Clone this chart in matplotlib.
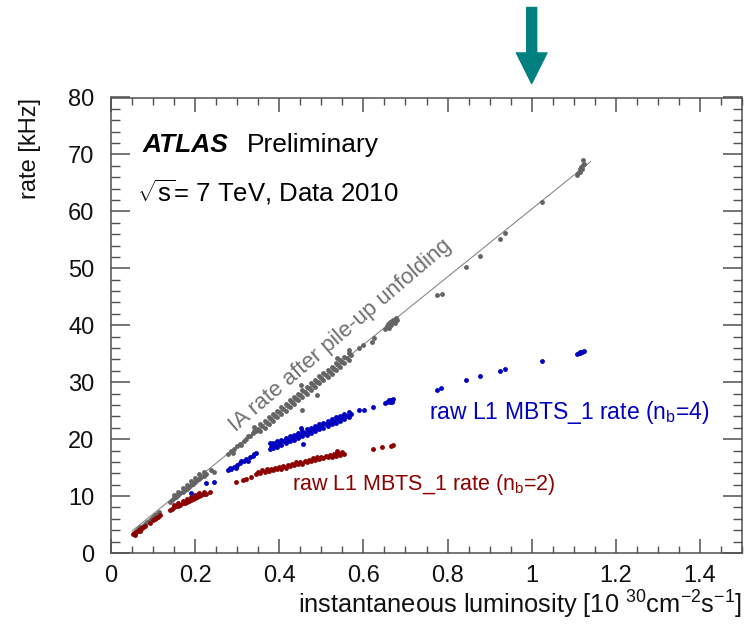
import matplotlib
matplotlib.use('AGG')
import matplotlib.pyplot as plt

plt.rcParams['font.family'] = ['Liberation Sans', 'DejaVu Sans']
plt.rcParams['mathtext.fontset'] = 'custom'
plt.rcParams['mathtext.rm'] = 'Liberation Sans'
plt.rcParams['mathtext.it'] = 'Liberation Sans:italic'

# IA rate after pile-up unfolding (grey)
ia_lumi = [0.055, 0.06, 0.065, 0.07, 0.075, 0.08, 0.085, 0.09, 0.095, 0.10, 0.105, 0.11, 0.115,
           0.14, 0.145, 0.15, 0.155, 0.16, 0.165, 0.17, 0.175, 0.18, 0.185, 0.19, 0.195, 0.20,
           0.205, 0.21, 0.215, 0.22, 0.225,
           0.15, 0.16, 0.17, 0.18, 0.19, 0.20, 0.21, 0.22,
           0.237, 0.246,
           0.278, 0.285, 0.292, 0.30, 0.307, 0.315, 0.322, 0.33, 0.337, 0.345,
           0.29, 0.31, 0.325, 0.34,
           0.35, 0.36, 0.37, 0.38, 0.39, 0.40, 0.41, 0.42, 0.43, 0.44, 0.45, 0.46, 0.47, 0.48,
           0.49, 0.50, 0.51, 0.52, 0.53, 0.54, 0.55, 0.56, 0.57,
           0.355, 0.365, 0.375, 0.385, 0.395, 0.405, 0.415, 0.425, 0.435, 0.445, 0.455, 0.465,
           0.475, 0.485, 0.495, 0.505, 0.515, 0.525, 0.535, 0.545, 0.555, 0.565,
           0.355, 0.365, 0.375, 0.385, 0.395, 0.405, 0.415, 0.425, 0.435, 0.445, 0.455, 0.465,
           0.475, 0.485, 0.495, 0.505, 0.515, 0.525, 0.535, 0.545, 0.555, 0.565,
           0.452, 0.49, 0.455, 0.538, 0.566, 0.341,
           0.59, 0.60, 0.62, 0.626,
           0.652, 0.655, 0.658, 0.66, 0.663, 0.666, 0.668, 0.671, 0.674, 0.677, 0.68,
           0.776, 0.786, 0.843, 0.878, 0.924, 0.936, 1.024,
           1.108, 1.111, 1.114, 1.116, 1.118, 1.12, 1.122, 1.124, 1.121]
ia_rate = [3.6, 3.9, 4.2, 4.5, 4.8, 5.1, 5.4, 5.7, 6.0, 6.3, 6.6, 6.9, 7.2,
           9.0, 9.3, 9.6, 9.9, 10.2, 10.5, 10.8, 11.0, 11.3, 11.6, 11.9, 12.2, 12.5,
           12.8, 13.0, 13.3, 13.6, 13.9,
           10.2, 10.8, 11.4, 11.9, 12.6, 13.1, 13.8, 14.3,
           14.6, 14.3,
           17.4, 17.9, 18.2, 18.8, 19.1, 19.7, 20.0, 20.6, 21.0, 21.4,
           17.6, 19.0, 20.5, 21.5,
           21.7, 22.3, 22.9, 23.5, 24.1, 24.7, 25.3, 25.9, 26.5, 27.1, 27.7, 28.3, 28.9, 29.5,
           30.1, 30.7, 31.2, 31.8, 32.4, 33.0, 33.6, 34.2, 34.8,
           21.4, 22.0, 22.6, 23.2, 23.8, 24.4, 25.0, 25.6, 26.2, 26.8, 27.4, 28.0,
           28.6, 29.2, 29.8, 30.4, 30.9, 31.5, 32.1, 32.7, 33.3, 33.9,
           22.6, 23.2, 23.8, 24.4, 25.0, 25.6, 26.2, 26.8, 27.4, 28.0, 28.6, 29.2,
           29.8, 30.4, 31.0, 31.6, 32.1, 32.7, 33.3, 33.9, 34.5, 35.1,
           29.5, 27.8, 25.1, 34.2, 35.7, 22.1,
           36.0, 36.5, 37.0, 37.8,
           39.3, 39.8, 40.2, 39.6, 40.5, 40.0, 40.8, 41.0, 40.4, 41.3, 41.0,
           45.3, 45.5, 50.3, 52.1, 55.2, 56.2, 61.6,
           66.4, 66.8, 67.0, 67.4, 67.8, 67.5, 68.1, 68.3, 69.0]

# raw L1 MBTS_1 rate, nb = 4 (blue)
nb4_lumi = [0.191, 0.225, 0.246,
            0.278, 0.285, 0.292, 0.30, 0.307, 0.315, 0.322, 0.33, 0.337, 0.345,
            0.282, 0.296, 0.31, 0.325, 0.34,
            0.38, 0.39, 0.40, 0.41, 0.42, 0.43, 0.44, 0.45, 0.46, 0.47, 0.48, 0.49, 0.50,
            0.51, 0.52, 0.53, 0.54, 0.55, 0.56, 0.57,
            0.385, 0.395, 0.405, 0.415, 0.425, 0.435, 0.445, 0.455, 0.465, 0.475, 0.485,
            0.495, 0.505, 0.515, 0.525, 0.535, 0.545, 0.555, 0.565,
            0.385, 0.395, 0.405, 0.415, 0.425, 0.435, 0.445, 0.455, 0.465, 0.475, 0.485,
            0.495, 0.505, 0.515, 0.525, 0.535, 0.545, 0.555, 0.565,
            0.378, 0.378, 0.382,
            0.452, 0.457,
            0.59, 0.602, 0.622,
            0.652, 0.656, 0.66, 0.663, 0.666, 0.67, 0.668,
            0.776, 0.785, 0.843, 0.878, 0.924, 0.936, 1.024,
            1.108, 1.112, 1.116, 1.12, 1.124, 1.114]
nb4_rate = [10.5, 12.3, 12.5,
            14.5, 14.8, 15.1, 15.5, 15.8, 16.1, 16.5, 16.8, 17.1, 17.6,
            14.9, 15.0, 16.2, 16.2, 17.4,
            18.7, 19.0, 19.3, 19.6, 19.9, 20.2, 20.5, 20.8, 21.1, 21.4, 21.7, 22.0, 22.3,
            22.6, 22.9, 23.2, 23.5, 23.8, 24.1, 24.4,
            18.4, 18.7, 19.0, 19.3, 19.6, 19.9, 20.2, 20.5, 20.8, 21.1, 21.4,
            21.7, 22.0, 22.3, 22.6, 22.9, 23.2, 23.5, 23.8,
            19.3, 19.6, 19.9, 20.2, 20.5, 20.8, 21.1, 21.4, 21.7, 22.0, 22.3,
            22.6, 22.9, 23.2, 23.5, 23.8, 24.1, 24.4, 24.7,
            18.2, 19.3, 19.0,
            22.0, 19.2,
            25.1, 25.1, 25.6,
            26.4, 26.6, 26.8, 26.5, 26.9, 27.0, 26.6,
            28.6, 28.9, 30.4, 31.1, 32.0, 32.3, 33.7,
            35.0, 35.1, 35.2, 35.3, 35.4, 35.3]

# raw L1 MBTS_1 rate, nb = 2 (dark red)
nb2_lumi = [0.053, 0.057, 0.06, 0.063, 0.066, 0.07, 0.073, 0.076, 0.08, 0.058, 0.068,
            0.092, 0.10, 0.104, 0.108, 0.112, 0.116,
            0.14, 0.145, 0.15, 0.155, 0.16, 0.165, 0.17, 0.175, 0.18, 0.185, 0.19, 0.195,
            0.20, 0.205, 0.21, 0.215, 0.22, 0.225,
            0.15, 0.16, 0.17, 0.18, 0.19, 0.20, 0.21, 0.22,
            0.235,
            0.298, 0.314, 0.321, 0.333,
            0.345, 0.355, 0.365, 0.375, 0.385, 0.395, 0.405, 0.415, 0.425, 0.435, 0.445,
            0.455, 0.465, 0.475, 0.485, 0.495, 0.505, 0.515, 0.525, 0.535, 0.545, 0.555,
            0.35, 0.36, 0.37, 0.38, 0.39, 0.40, 0.41, 0.42, 0.43, 0.44, 0.45, 0.46, 0.47,
            0.48, 0.49, 0.50, 0.51, 0.52, 0.53, 0.54, 0.55, 0.538,
            0.622, 0.645, 0.665, 0.67]
nb2_rate = [3.3, 3.5, 3.7, 3.9, 4.0, 4.2, 4.4, 4.6, 4.8, 3.2, 3.8,
            5.3, 5.8, 6.0, 6.2, 6.4, 6.6,
            7.6, 7.8, 8.0, 8.2, 8.3, 8.5, 8.7, 8.8, 9.0, 9.2, 9.3, 9.5,
            9.6, 9.8, 10.0, 10.1, 10.3, 10.4,
            8.5, 8.8, 9.2, 9.5, 9.8, 10.1, 10.5, 10.8,
            10.8,
            12.5, 12.8, 13.0, 13.3,
            13.9, 14.1, 14.2, 14.4, 14.5, 14.7, 14.8, 15.0, 15.2, 15.4, 15.6,
            15.7, 15.9, 16.1, 16.3, 16.5, 16.6, 16.8, 16.9, 17.1, 17.2, 17.4,
            14.3, 14.5, 14.7, 14.8, 15.0, 15.1, 15.3, 15.5, 15.7, 15.9, 16.0, 16.2, 16.4,
            16.6, 16.8, 16.9, 17.1, 17.2, 17.4, 17.5, 17.7, 17.9,
            18.2, 18.7, 18.8, 18.9]

# linear fit to the unfolded rate
fit_slope = 59.5
fit_offset = 0.9
fit_range = [0.05, 1.14]

grey = '#646464'
blue = '#0000c0'
red = '#8c0000'
axc = '#505050'

fig = plt.figure(figsize=(7.44, 6.31), dpi=100)
ax = fig.add_axes([111/744, 1 - 553/631, 631/744, 455.5/631])

ax.plot(fit_range, [fit_slope*x + fit_offset for x in fit_range], color='#888888', lw=0.8, zorder=1)
ax.plot(ia_lumi, ia_rate, 'o', color=grey, ms=3.5, mew=0, zorder=2)
ax.plot(nb4_lumi, nb4_rate, 'o', color=blue, ms=3.5, mew=0, zorder=2)
ax.plot(nb2_lumi, nb2_rate, 'o', color=red, ms=3.5, mew=0, zorder=2)

ax.set_xlim(0, 1.5)
ax.set_ylim(0, 80)
ax.set_xticks([0, 0.2, 0.4, 0.6, 0.8, 1.0, 1.2, 1.4])
ax.set_xticklabels(['0', '0.2', '0.4', '0.6', '0.8', '1', '1.2', '1.4'])
ax.set_xticks([i*0.05 for i in range(31)], minor=True)
ax.set_yticks(range(0, 81, 10))
ax.set_yticks(range(0, 81, 2), minor=True)
for s in ax.spines.values():
    s.set_color(axc)
    s.set_linewidth(1.1)
ax.tick_params(axis='x', which='major', direction='in', length=10, width=1.1, color=axc,
               top=True, labelsize=17, pad=9, labelcolor='#111111')
ax.tick_params(axis='x', which='minor', direction='in', length=5, width=1.0, color=axc, top=True)
ax.tick_params(axis='y', which='major', direction='in', length=13.5, width=1.1, color=axc,
               right=True, labelsize=17, pad=12, labelcolor='#111111')
ax.tick_params(axis='y', which='minor', direction='in', length=6.5, width=1.0, color=axc, right=True)

ax.text(0.076, 71.7, 'ATLAS', fontsize=19, fontweight='bold', fontstyle='italic', va='center')
ax.text(0.323, 71.7, 'Preliminary', fontsize=19, va='center')
ax.text(0.062, 63.4, r'$\sqrt{\mathrm{s}}$= 7 TeV, Data 2010', fontsize=18.5, va='center')
ax.text(0.545, 38.2, 'IA rate after pile-up unfolding', fontsize=16, color='#707070',
        rotation=40.5, ha='center', va='center', rotation_mode='anchor')
ax.text(0.756, 24.6, r'raw L1 MBTS_1 rate (n$_{\mathrm{b}}$=4)', fontsize=16.5, color=blue, va='center')
ax.text(0.431, 12.0, r'raw L1 MBTS_1 rate (n$_{\mathrm{b}}$=2)', fontsize=15.5, color=red, va='center')

fig.text(742/744, 1 - 605/631, r'instantaneous luminosity [10 $^{30}$cm$^{-2}$s$^{-1}$]',
         fontsize=18.3, ha='right', va='center', color='#111111')
fig.text(30/744, 1 - 98/631, 'rate [kHz]', fontsize=17, rotation=90, ha='center', va='top',
         color='#111111')

# arrow marking L = 1e30
ax.annotate('', xy=(1.0, 1 + 14/455.5), xytext=(1.0, 1 + 90/455.5),
            xycoords=('data', 'axes fraction'), textcoords=('data', 'axes fraction'),
            arrowprops=dict(width=7.2, headwidth=22, headlength=22, color='#008080', shrink=0),
            annotation_clip=False)

plt.savefig('out.png', dpi=100)
